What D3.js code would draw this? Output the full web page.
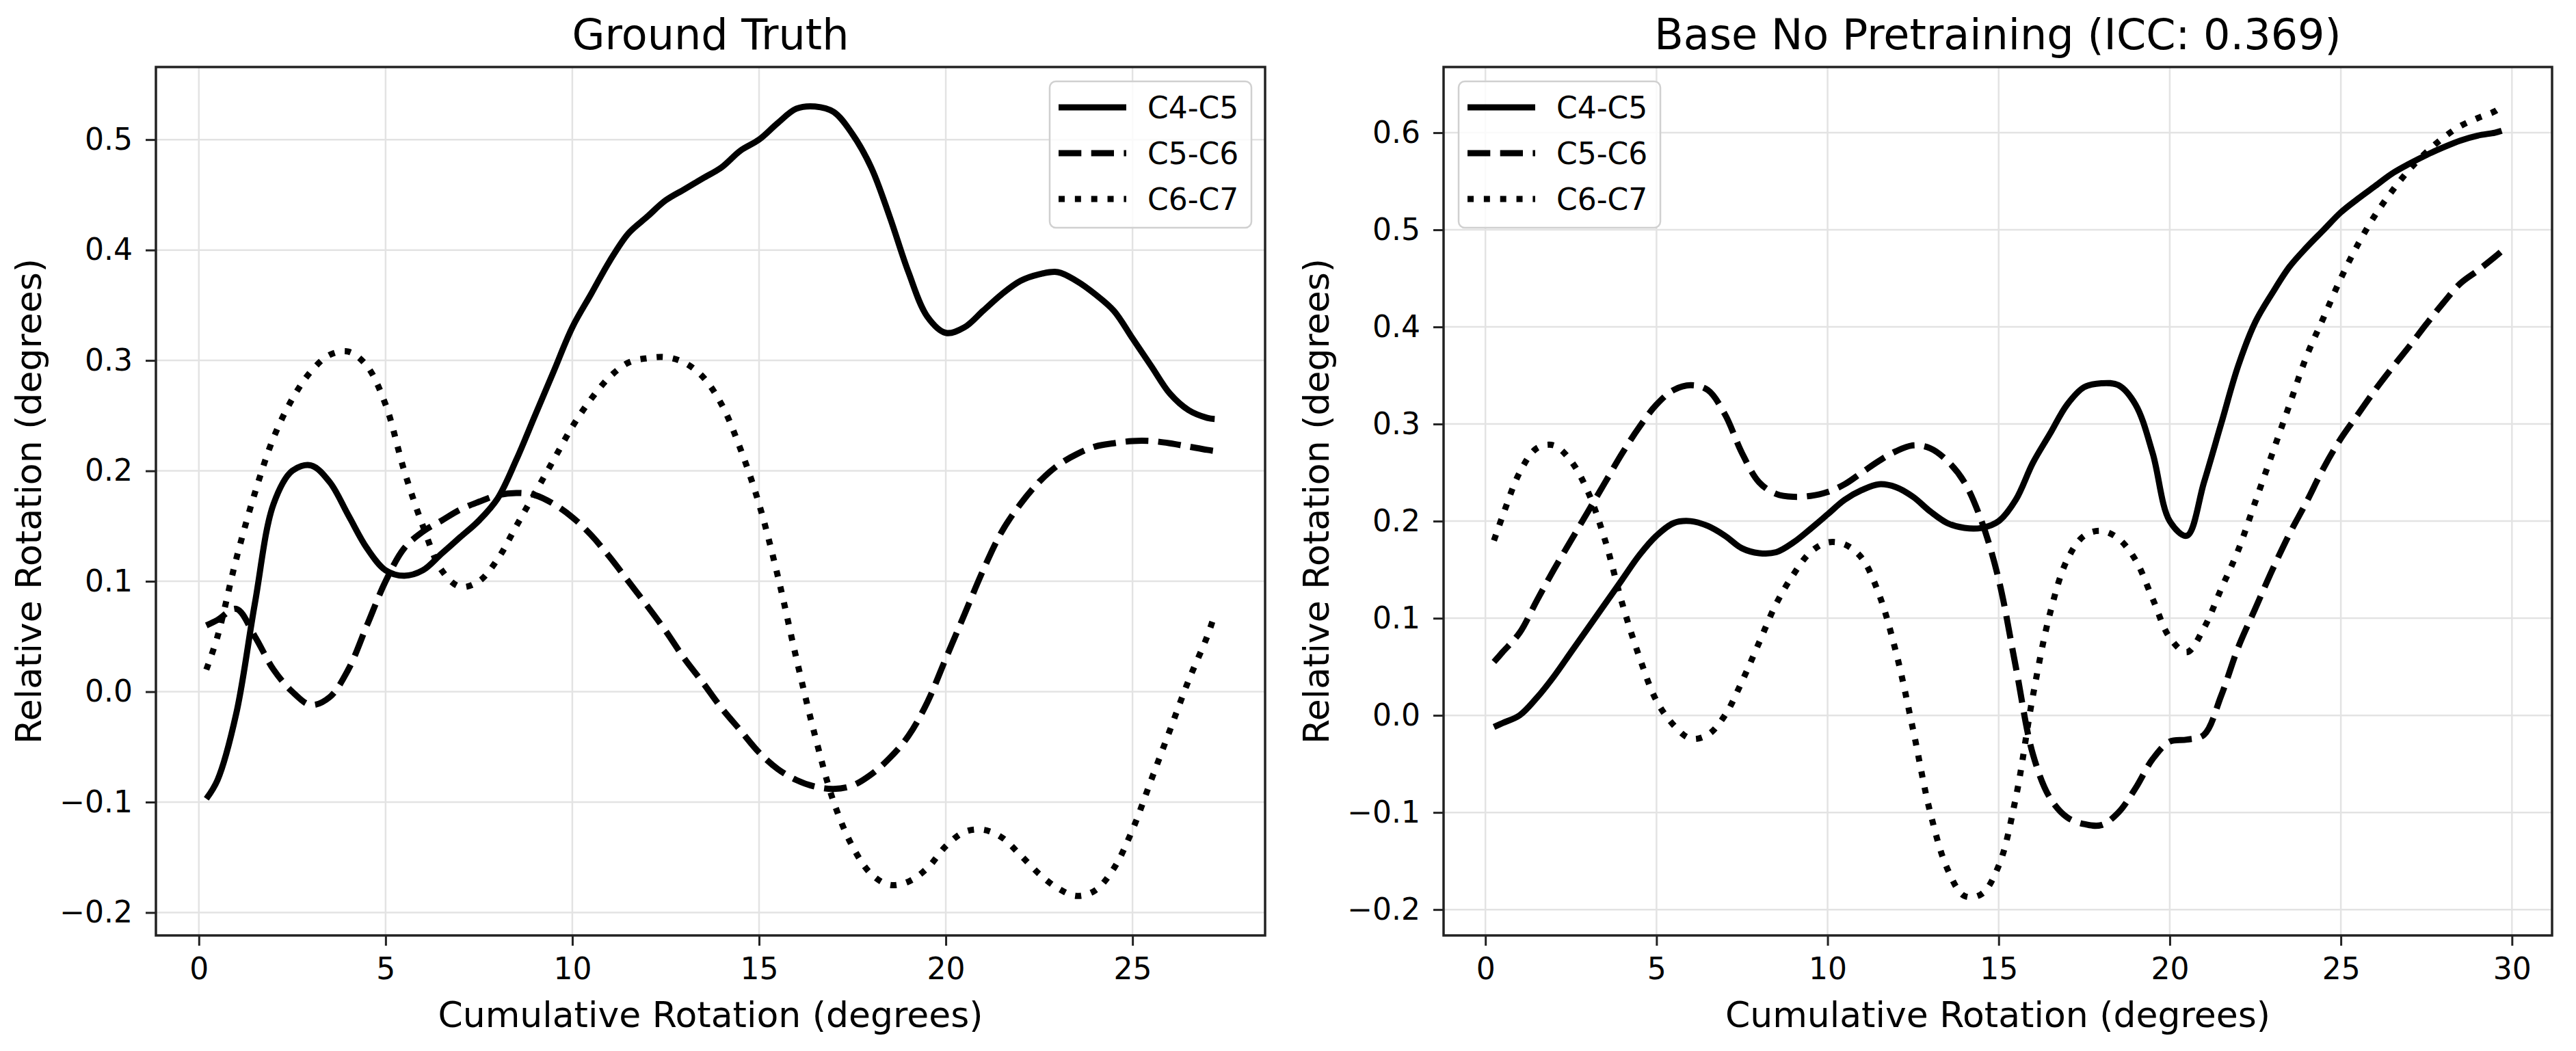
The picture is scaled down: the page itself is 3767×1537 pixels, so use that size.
<!DOCTYPE html>
<html>
<head>
<meta charset="utf-8">
<script src="https://cdn.jsdelivr.net/npm/d3@7"></script>
<style>
  body { margin: 0; background: #fff; }
  svg { display: block; font-family: "DejaVu Sans", sans-serif; }
</style>
</head>
<body>
<div class="canvas"></div>
<script>
// ---- data ----
const seriesNames = ["C4-C5", "C5-C6", "C6-C7"];

const gtX = [0.2, 0.5, 1, 1.5, 2, 2.5, 3, 3.5, 4, 4.5, 5, 5.5, 6, 6.5, 7, 7.5, 8, 8.5, 9, 9.5,
  10, 10.5, 11, 11.5, 12, 12.5, 13, 13.5, 14, 14.5, 15, 15.5, 16, 16.5, 17, 17.5, 18, 18.5, 19, 19.5,
  20, 20.5, 21, 21.5, 22, 22.5, 23, 23.5, 24, 24.5, 25, 25.5, 26, 26.5, 27, 27.2];
const gtC45 = [-0.097, -0.08, -0.02, 0.08, 0.17, 0.2, 0.205, 0.19, 0.16, 0.13, 0.11, 0.105, 0.11, 0.125, 0.14, 0.155, 0.175, 0.21, 0.25, 0.29,
  0.33, 0.36, 0.39, 0.415, 0.43, 0.445, 0.455, 0.465, 0.475, 0.49, 0.5, 0.515, 0.528, 0.53, 0.525, 0.505, 0.475, 0.43, 0.38, 0.34,
  0.325, 0.33, 0.345, 0.36, 0.372, 0.378, 0.38, 0.372, 0.36, 0.345, 0.32, 0.295, 0.27, 0.255, 0.248, 0.247];
const gtC56 = [0.06, 0.065, 0.075, 0.05, 0.02, 0.0, -0.012, -0.005, 0.02, 0.06, 0.1, 0.13, 0.145, 0.155, 0.165, 0.172, 0.178, 0.18, 0.178, 0.17,
  0.158, 0.142, 0.122, 0.1, 0.078, 0.055, 0.03, 0.008, -0.015, -0.035, -0.055, -0.07, -0.08, -0.086, -0.088, -0.085, -0.075, -0.06, -0.04, -0.01,
  0.03, 0.07, 0.11, 0.145, 0.17, 0.19, 0.205, 0.215, 0.222, 0.225, 0.227, 0.227, 0.225, 0.222, 0.219, 0.218];
const gtC67 = [0.02, 0.05, 0.12, 0.18, 0.23, 0.265, 0.29, 0.305, 0.308, 0.295, 0.26, 0.2, 0.15, 0.11, 0.095, 0.1, 0.12, 0.15, 0.18, 0.21,
  0.24, 0.265, 0.285, 0.298, 0.302, 0.303, 0.298, 0.285, 0.26, 0.22, 0.17, 0.105, 0.03, -0.04, -0.1, -0.14, -0.165, -0.175, -0.172, -0.16,
  -0.14, -0.127, -0.125, -0.132, -0.148, -0.165, -0.178, -0.185, -0.18, -0.16, -0.125, -0.08, -0.035, 0.01, 0.05, 0.07];

const bnpX = [0.25, 0.5, 1, 1.5, 2, 2.5, 3, 3.5, 4, 4.5, 5, 5.5, 6, 6.5, 7, 7.5, 8, 8.5, 9, 9.5,
  10, 10.5, 11, 11.5, 12, 12.5, 13, 13.5, 14, 14.5, 15, 15.5, 16, 16.5, 17, 17.5, 18, 18.5, 19, 19.5,
  20, 20.5, 21, 21.5, 22, 22.5, 23, 23.5, 24, 24.5, 25, 25.5, 26, 26.5, 27, 27.5, 28, 28.5, 29, 29.5, 29.7];
const bnpC45 = [-0.012, -0.008, 0.0, 0.018, 0.04, 0.065, 0.09, 0.115, 0.14, 0.165, 0.185, 0.198, 0.2, 0.195, 0.185, 0.172, 0.167, 0.168, 0.178, 0.192,
  0.207, 0.222, 0.232, 0.238, 0.235, 0.225, 0.21, 0.198, 0.193, 0.193, 0.2, 0.222, 0.26, 0.29, 0.32, 0.338, 0.342, 0.34, 0.32, 0.27,
  0.2, 0.185, 0.24, 0.3, 0.36, 0.405, 0.435, 0.462, 0.482, 0.5, 0.518, 0.532, 0.545, 0.558, 0.568, 0.577, 0.585, 0.592, 0.597, 0.6, 0.602];
const bnpC56 = [0.055, 0.065, 0.085, 0.118, 0.15, 0.18, 0.21, 0.24, 0.27, 0.297, 0.32, 0.335, 0.34, 0.335, 0.31, 0.27, 0.24, 0.228, 0.225, 0.226,
  0.23, 0.238, 0.25, 0.262, 0.272, 0.278, 0.275, 0.262, 0.24, 0.2, 0.14, 0.05, -0.04, -0.085, -0.105, -0.112, -0.113, -0.1, -0.075, -0.045,
  -0.027, -0.025, -0.02, 0.02, 0.07, 0.11, 0.15, 0.187, 0.22, 0.255, 0.285, 0.31, 0.335, 0.358, 0.38, 0.403, 0.425, 0.445, 0.458, 0.472, 0.478];
const bnpC67 = [0.18, 0.205, 0.25, 0.275, 0.278, 0.262, 0.23, 0.18, 0.115, 0.06, 0.015, -0.01, -0.024, -0.02, 0.0, 0.035, 0.075, 0.115, 0.145, 0.168,
  0.178, 0.176, 0.162, 0.125, 0.065, -0.015, -0.1, -0.158, -0.186, -0.184, -0.155, -0.085, 0.02, 0.105, 0.16, 0.185, 0.19, 0.182, 0.16, 0.12,
  0.08, 0.065, 0.09, 0.13, 0.17, 0.22, 0.27, 0.32, 0.37, 0.41, 0.45, 0.485, 0.515, 0.54, 0.562, 0.58, 0.595, 0.607, 0.615, 0.622, 0.627];

const gtXTicks = [0, 5, 10, 15, 20, 25];
const gtYTicks = [-0.2, -0.1, 0, 0.1, 0.2, 0.3, 0.4, 0.5];
const bnpXTicks = [0, 5, 10, 15, 20, 25, 30];
const bnpYTicks = [-0.2, -0.1, 0, 0.1, 0.2, 0.3, 0.4, 0.5, 0.6];

// ---- layout ----
const dimensions = { width: 3767, height: 1537 };
const lw = 9;
const dashes = ["none", `${3.7 * lw},${1.6 * lw}`, `${1 * lw},${1.65 * lw}`];

const svg = d3
  .select(".canvas")
  .append("svg")
  .attr("width", dimensions.width)
  .attr("height", dimensions.height);

const drawPanel = (cfg) => {
  const { left, right, top, bottom } = cfg.box;
  const allY = cfg.series.flat();
  const [x0, x1] = d3.extent(cfg.x);
  const [y0, y1] = d3.extent(allY);
  const mx = (x1 - x0) * 0.05;
  const my = (y1 - y0) * 0.05;

  const x = d3.scaleLinear().domain([x0 - mx, x1 + mx]).range([left, right]);
  const y = d3.scaleLinear().domain([y0 - my, y1 + my]).range([bottom, top]);

  const g = svg.append("g");

  // grid
  g.append("g")
    .selectAll("line")
    .data(cfg.xTicks)
    .enter()
    .append("line")
    .attr("x1", (d) => x(d))
    .attr("x2", (d) => x(d))
    .attr("y1", top)
    .attr("y2", bottom)
    .attr("stroke", "#e3e3e3")
    .attr("stroke-width", 2.5);
  g.append("g")
    .selectAll("line")
    .data(cfg.yTicks)
    .enter()
    .append("line")
    .attr("x1", left)
    .attr("x2", right)
    .attr("y1", (d) => y(d))
    .attr("y2", (d) => y(d))
    .attr("stroke", "#e3e3e3")
    .attr("stroke-width", 2.5);

  // lines
  const line = d3
    .line()
    .x((d) => x(d[0]))
    .y((d) => y(d[1]))
    .curve(d3.curveCatmullRom.alpha(0.5));

  cfg.series.forEach((s, i) => {
    g.append("path")
      .datum(cfg.x.map((v, j) => [v, s[j]]))
      .attr("fill", "none")
      .attr("stroke", "#000")
      .attr("stroke-width", lw)
      .attr("stroke-dasharray", dashes[i])
      .attr("stroke-linejoin", "round")
      .attr("d", line);
  });

  // frame
  g.append("rect")
    .attr("x", left)
    .attr("y", top)
    .attr("width", right - left)
    .attr("height", bottom - top)
    .attr("fill", "none")
    .attr("stroke", "#222")
    .attr("stroke-width", 3.5);

  // axes
  const xAxis = g
    .append("g")
    .attr("transform", `translate(0, ${bottom})`)
    .call(d3.axisBottom(x).tickValues(cfg.xTicks).tickFormat(d3.format("d")).tickSize(15).tickPadding(18));
  const yAxis = g
    .append("g")
    .attr("transform", `translate(${left}, 0)`)
    .call(d3.axisLeft(y).tickValues(cfg.yTicks).tickFormat(d3.format(".1f")).tickSize(15).tickPadding(19));

  [xAxis, yAxis].forEach((a) => {
    a.select(".domain").remove();
    a.selectAll(".tick line").attr("stroke", "#222").attr("stroke-width", 3);
    a.selectAll(".tick text")
      .attr("fill", "#000")
      .attr("font-size", 44)
      .attr("font-family", "DejaVu Sans");
  });

  // labels
  g.append("text")
    .attr("x", (left + right) / 2)
    .attr("y", 72)
    .attr("text-anchor", "middle")
    .attr("font-size", 62)
    .text(cfg.title);

  g.append("text")
    .attr("x", (left + right) / 2)
    .attr("y", 1502)
    .attr("text-anchor", "middle")
    .attr("font-size", 52)
    .text("Cumulative Rotation (degrees)");

  g.append("text")
    .attr("transform", `translate(${left - 168}, ${(top + bottom) / 2}) rotate(-90)`)
    .attr("text-anchor", "middle")
    .attr("font-size", 52)
    .text("Relative Rotation (degrees)");

  // legend
  const lg = g.append("g").attr("transform", `translate(${cfg.legend.x}, ${cfg.legend.y})`);
  lg.append("rect")
    .attr("width", 295)
    .attr("height", 214)
    .attr("rx", 9)
    .attr("fill", "#fff")
    .attr("fill-opacity", 0.8)
    .attr("stroke", "#d0d0d0")
    .attr("stroke-width", 2.5);

  seriesNames.forEach((name, i) => {
    const cy = 38 + i * 67;
    lg.append("line")
      .attr("x1", 13)
      .attr("x2", 112)
      .attr("y1", cy)
      .attr("y2", cy)
      .attr("stroke", "#000")
      .attr("stroke-width", lw)
      .attr("stroke-dasharray", dashes[i]);
    lg.append("text")
      .attr("x", 143)
      .attr("y", cy + 16)
      .attr("font-size", 44)
      .text(name);
  });
};

drawPanel({
  title: "Ground Truth",
  box: { left: 228, right: 1850, top: 98, bottom: 1368 },
  x: gtX,
  series: [gtC45, gtC56, gtC67],
  xTicks: gtXTicks,
  yTicks: gtYTicks,
  legend: { x: 1535, y: 119 },
});

drawPanel({
  title: "Base No Pretraining (ICC: 0.369)",
  box: { left: 2111, right: 3732, top: 98, bottom: 1368 },
  x: bnpX,
  series: [bnpC45, bnpC56, bnpC67],
  xTicks: bnpXTicks,
  yTicks: bnpYTicks,
  legend: { x: 2133, y: 119 },
});
</script>
</body>
</html>
